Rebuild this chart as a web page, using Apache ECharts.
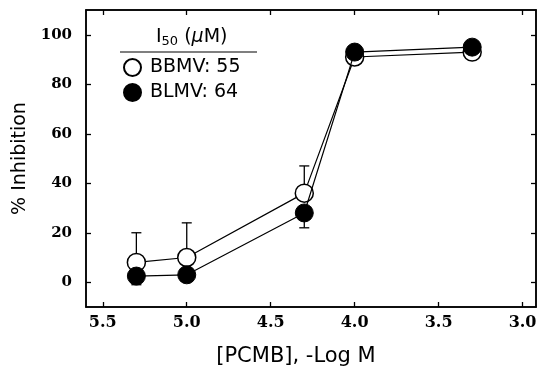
<!DOCTYPE html>
<html>
<head>
<meta charset="utf-8">
<script src="https://cdn.jsdelivr.net/npm/echarts@6/dist/echarts.min.js"></script>
<style>
  html, body { margin: 0; padding: 0; background: #fff; }
  #chart { width: 546px; height: 383px; }
</style>
</head>
<body>
<div id="chart"></div>
<script>
// x values are -log M, axis runs from high to low
const logConc = [5.3, 5.0, 4.3, 4.0, 3.3];
const bbmv = [8, 10, 36, 91, 93];
const blmv = [2.5, 3, 28, 93, 95];
const bbmvErrUp = [12, 14, 11, 0, 0];
const blmvErrDown = [3.5, 0, 6, 0, 0];
const xTicks = [5.5, 5.0, 4.5, 4.0, 3.5, 3.0];
const yTicks = [0, 20, 40, 60, 80, 100];

const serifFont = "DejaVu Serif";
const sansFont = "DejaVu Sans";

const errBars = (vals, errs, sign) =>
  logConc.map((x, i) => [x, vals[i], vals[i] + sign * errs[i]]).filter((d, i) => errs[i] > 0);

function renderErr(params, api) {
  const x = api.value(0);
  const p0 = api.coord([x, api.value(1)]);
  const p1 = api.coord([x, api.value(2)]);
  const st = { stroke: "#000", lineWidth: 1.3 };
  return {
    type: "group",
    children: [
      { type: "line", shape: { x1: p0[0], y1: p0[1], x2: p1[0], y2: p1[1] }, style: st },
      { type: "line", shape: { x1: p1[0] - 5, y1: p1[1], x2: p1[0] + 5, y2: p1[1] }, style: st },
    ],
  };
}

const chart = echarts.init(document.getElementById("chart"));
const xBase = {
  type: "value",
  min: 2.92,
  max: 5.6,
  inverse: true,
  splitLine: { show: false },
  axisLine: { onZero: false, lineStyle: { color: "#000", width: 1.5 } },
  axisTick: { inside: true, length: 5, customValues: xTicks, lineStyle: { color: "#000", width: 1.3 } },
};
const yBase = {
  type: "value",
  min: -10,
  max: 110,
  splitLine: { show: false },
  axisLine: { onZero: false, lineStyle: { color: "#000", width: 1.5 } },
  axisTick: { inside: true, length: 5, customValues: yTicks, lineStyle: { color: "#000", width: 1.3 } },
};

chart.setOption({
  animation: false,
  grid: { left: 86, top: 10, right: 10, bottom: 76, show: true, borderColor: "#000", borderWidth: 1.5 },
  xAxis: [
    Object.assign({}, xBase, {
      position: "bottom",
      name: "[PCMB], -Log M",
      nameLocation: "middle",
      nameGap: 39,
      nameTextStyle: { fontFamily: sansFont, fontSize: 21, color: "#000", padding: [0, 30, 0, 0] },
      axisLabel: {
        customValues: xTicks,
        margin: 8,
        fontFamily: serifFont,
        fontWeight: "bold",
        fontSize: 16,
        color: "#000",
        formatter: (v) => v.toFixed(1),
      },
    }),
    Object.assign({}, xBase, { position: "top", axisLabel: { show: false } }),
  ],
  yAxis: [
    Object.assign({}, yBase, {
      position: "left",
      name: "% Inhibition",
      nameLocation: "middle",
      nameGap: 56,
      nameTextStyle: { fontFamily: sansFont, fontSize: 19, color: "#000" },
      axisLabel: {
        customValues: yTicks,
        margin: 14,
        fontFamily: serifFont,
        fontWeight: "bold",
        fontSize: 15,
        color: "#000",
      },
    }),
    Object.assign({}, yBase, { position: "right", axisLabel: { show: false } }),
  ],
  legend: {
    data: ["BBMV: 55", "BLMV: 64"],
    orient: "vertical",
    left: 118,
    top: 53,
    itemWidth: 17,
    itemHeight: 17,
    itemGap: 6,
    icon: "circle",
    textStyle: { fontFamily: sansFont, fontSize: 19, color: "#000", padding: [0, 0, 0, 4] },
  },
  graphic: [
    {
      type: "text",
      left: 156,
      top: 28,
      style: {
        text: "{a|I}{s|50}{a| (}{i|μ}{a|M)}",
        rich: {
          a: { fontFamily: sansFont, fontSize: 19, fill: "#000" },
          s: { fontFamily: sansFont, fontSize: 13, fill: "#000", verticalAlign: "bottom", padding: [9, 0, 0, 0] },
          i: { fontFamily: sansFont, fontSize: 19, fontStyle: "italic", fill: "#000" },
        },
      },
    },
    {
      type: "line",
      shape: { x1: 120, y1: 52, x2: 257, y2: 52 },
      style: { stroke: "#000", lineWidth: 1.2 },
    },
  ],
  series: [
    {
      type: "custom",
      renderItem: renderErr,
      data: errBars(bbmv, bbmvErrUp, 1),
      z: 1,
      silent: true,
    },
    {
      type: "custom",
      renderItem: renderErr,
      data: errBars(blmv, blmvErrDown, -1),
      z: 1,
      silent: true,
    },
    {
      name: "BBMV: 55",
      type: "line",
      data: logConc.map((x, i) => [x, bbmv[i]]),
      symbol: "circle",
      symbolSize: 18,
      itemStyle: { color: "#fff", borderColor: "#000", borderWidth: 1.5 },
      lineStyle: { color: "#000", width: 1.2 },
      z: 2,
    },
    {
      name: "BLMV: 64",
      type: "line",
      data: logConc.map((x, i) => [x, blmv[i]]),
      symbol: "circle",
      symbolSize: 18,
      itemStyle: { color: "#000", borderColor: "#000", borderWidth: 1 },
      lineStyle: { color: "#000", width: 1.2 },
      z: 3,
    },
  ],
});
</script>
</body>
</html>
